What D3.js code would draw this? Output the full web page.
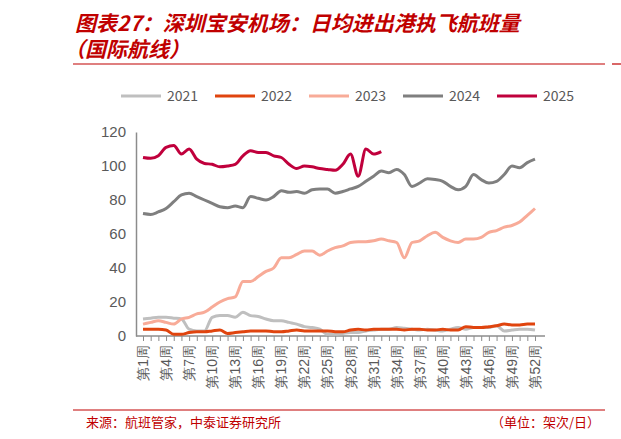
<!DOCTYPE html>
<html><head><meta charset="utf-8">
<script src="https://cdn.jsdelivr.net/npm/d3@7"></script>
<style>body{margin:0;background:#fff}svg{display:block;font-family:"Noto Sans CJK SC",sans-serif}</style>
</head><body><svg id="c" width="621" height="439"></svg>
<script>
const weeks = d3.range(1, 53);
const tickWeeks = d3.range(1, 53, 3);
const yTicks = [0, 20, 40, 60, 80, 100, 120];
const years = ['2021', '2022', '2023', '2024', '2025'];
const colors = ['#bfbfbf', '#e0440e', '#f8ab98', '#7f7f7f', '#c0003c'];

const v2021 = [10,10.5,11,11,10.5,10,4,3,3,11,12,12,11,14,12,11.5,10,9,9,8,7,5.5,5,4,1,1,1.5,2,2,3,3.5,4,4,5,4.5,4,3.5,4,3.5,3,4,5,4,5,5,5,6,3,3.5,4,4,3.5];
const v2022 = [4,4,4,3.5,1,1,2,2.5,2.5,3,3.5,1.5,2,2.5,3,3,3,2.5,2.5,3,3.5,3,3,3,3,2.5,2.5,3.5,4,3.5,4,4,4,4,3.5,4,4,3.5,3.5,4,3.5,3.5,5.5,5,5,5.5,6,7,6.5,6.5,7,7];
const v2023 = [7,8,9,8,7,10,11,13,14,17,20,22,23,32,32,35,38,40,46,46,48,50,50,47.5,50,52,53,55,55.5,55.5,56,57,56,55,46,55,56,59,61,58,56,55,57,57,58,61,62,64,65,67,71,75];
const v2024 = [72,71.5,73,75,79,83,84,82,80,78,76,75.5,76.5,75.5,82,81,80,82,85.5,84.5,85,84,86,86.5,86.5,84,85,86.5,88,91,94,97,96,98,95,88,90,92.5,92,91,88,86,88,95,92,90,91,95,100,99,102,104];
const v2025 = [105,104.5,106,111,112,107,110,104,101.5,101,99.5,100,101,106,109,108,108,106,105,101,98.5,100,99.5,98.5,98,97.5,101,107,94,110,107,108.5];
const series = [v2021, v2022, v2023, v2024, v2025];

const svg = d3.select('#c');
const red = '#c00000';

svg.append('text').attr('x', 75).attr('y', 31).attr('fill', red)
  .attr('font-size', 21).attr('font-weight', 'bold').attr('font-style', 'italic')
  .text('图表27：深圳宝安机场：日均进出港执飞航班量');
svg.append('text').attr('x', 64).attr('y', 57).attr('fill', red)
  .attr('font-size', 21).attr('font-weight', 'bold').attr('font-style', 'italic')
  .text('（国际航线）');
svg.append('line').attr('x1', 73).attr('x2', 605).attr('y1', 64).attr('y2', 64).attr('stroke', red).attr('stroke-width', 1.2);
svg.append('line').attr('x1', 612).attr('x2', 621).attr('y1', 64).attr('y2', 64).attr('stroke', red).attr('stroke-width', 1.2);

const x = d3.scaleLinear().domain([1, 52]).range([143, 535]);
const y = d3.scaleLinear().domain([0, 120]).range([336, 132]);

// legend
const lg = svg.append('g');
years.forEach((yr, i) => {
  const lx = 121 + i * 94;
  lg.append('line').attr('x1', lx).attr('x2', lx + 40).attr('y1', 96).attr('y2', 96)
    .attr('stroke', colors[i]).attr('stroke-width', 3);
  lg.append('text').attr('x', lx + 46).attr('y', 101).attr('font-size', 14).attr('fill', '#595959').text(yr);
});

// y axis
const ya = svg.append('g').attr('transform', 'translate(136,0)')
  .call(d3.axisLeft(y).tickValues(yTicks).tickSize(0).tickPadding(10));
ya.select('.domain').attr('stroke', '#8c8c8c').attr('stroke-width', 1.5);
ya.selectAll('text').attr('font-size', 15).attr('fill', '#595959').attr('font-family', 'Liberation Sans, sans-serif');

// x axis
const xa = svg.append('g').attr('transform', 'translate(0,336)')
  .call(d3.axisBottom(x).tickValues(weeks).tickSize(5).tickFormat(''));
xa.select('.domain').attr('d', 'M136,0H545').attr('stroke', '#8c8c8c').attr('stroke-width', 1.5);
xa.selectAll('.tick line').attr('stroke', '#8c8c8c');
xa.selectAll('.tl').data(tickWeeks).enter().append('text')
  .attr('transform', d => `translate(${x(d) + 5},9) rotate(-90)`)
  .attr('text-anchor', 'end').attr('font-size', 14).attr('fill', '#595959')
  .text(d => `第${d}周`);

const line = d3.line().x((d, i) => x(i + 1)).y(d => y(d)).curve(d3.curveMonotoneX);
series.forEach((s, i) => {
  svg.append('path').datum(s).attr('d', line).attr('fill', 'none')
    .attr('stroke', colors[i]).attr('stroke-width', 3).attr('stroke-linejoin', 'round');
});

// footer
svg.append('line').attr('x1', 73).attr('x2', 605).attr('y1', 410).attr('y2', 410).attr('stroke', red).attr('stroke-width', 1);
svg.append('text').attr('x', 86).attr('y', 427).attr('fill', red).attr('font-size', 13).text('来源：航班管家，中泰证券研究所');
svg.append('text').attr('x', 600).attr('y', 427).attr('fill', red).attr('font-size', 13).attr('text-anchor', 'end').text('（单位：架次/日）');
</script></body></html>
